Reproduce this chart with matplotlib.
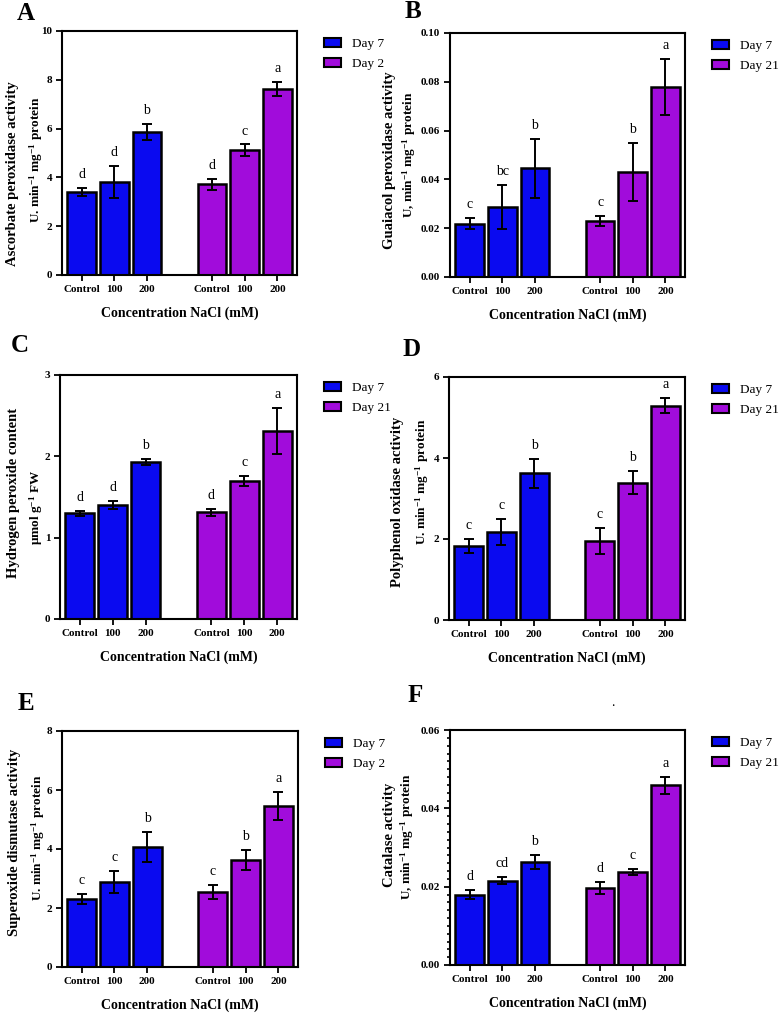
import numpy as np
import matplotlib
matplotlib.use('Agg')
import matplotlib.pyplot as plt
from matplotlib.patches import Patch
from matplotlib.ticker import MultipleLocator

plt.rcParams['font.family'] = ['Liberation Serif', 'DejaVu Serif']
plt.rcParams['mathtext.fontset'] = 'custom'
plt.rcParams['mathtext.rm'] = 'Liberation Serif:bold'
plt.rcParams['mathtext.it'] = 'Liberation Serif:bold'
plt.rcParams['mathtext.bf'] = 'Liberation Serif:bold'

groups = ['Control', '100', '200']
blue = '#0a0af0'
purple = '#a10cdb'

# A - ascorbate peroxidase
apx_d7 = [3.40, 3.80, 5.87]
apx_d7_err = [0.18, 0.65, 0.33]
apx_d21 = [3.72, 5.12, 7.62]
apx_d21_err = [0.22, 0.23, 0.30]
apx_letters = ['d', 'd', 'b', 'd', 'c', 'a']

# B - guaiacol peroxidase
gpx_d7 = [0.0219, 0.0288, 0.0445]
gpx_d7_err = [0.0022, 0.0090, 0.0120]
gpx_d21 = [0.0230, 0.0430, 0.0778]
gpx_d21_err = [0.0020, 0.0118, 0.0115]
gpx_letters = ['c', 'bc', 'b', 'c', 'b', 'a']

# C - hydrogen peroxide
h2o2_d7 = [1.30, 1.40, 1.93]
h2o2_d7_err = [0.03, 0.05, 0.04]
h2o2_d21 = [1.31, 1.70, 2.31]
h2o2_d21_err = [0.04, 0.06, 0.28]
h2o2_letters = ['d', 'd', 'b', 'd', 'c', 'a']

# D - polyphenol oxidase
ppo_d7 = [1.83, 2.18, 3.62]
ppo_d7_err = [0.17, 0.32, 0.36]
ppo_d21 = [1.95, 3.39, 5.29]
ppo_d21_err = [0.33, 0.28, 0.19]
ppo_letters = ['c', 'c', 'b', 'c', 'b', 'a']

# E - superoxide dismutase
sod_d7 = [2.30, 2.88, 4.07]
sod_d7_err = [0.16, 0.36, 0.50]
sod_d21 = [2.55, 3.63, 5.47]
sod_d21_err = [0.24, 0.33, 0.47]
sod_letters = ['c', 'c', 'b', 'c', 'b', 'a']

# F - catalase
cat_d7 = [0.0180, 0.0215, 0.0262]
cat_d7_err = [0.0011, 0.0009, 0.0018]
cat_d21 = [0.0197, 0.0237, 0.0459]
cat_d21_err = [0.0015, 0.0008, 0.0022]
cat_letters = ['d', 'cd', 'b', 'd', 'c', 'a']

W, H = 780, 1015
fig = plt.figure(figsize=(7.8, 10.15), dpi=100)


def px_axes(l, t, r, b):
    return fig.add_axes([l / W, 1 - b / H, (r - l) / W, (b - t) / H])


def panel(box, d7, d7e, d21, d21e, letters, ymax, ystep, yfmt, ylab, unit,
          tag, tagxy, outer_xy, inner_xy, legend_labels, minor=None):
    ax = px_axes(*box)
    x1 = np.array([0, 1, 2])
    x2 = np.array([4, 5, 6])
    ekw = dict(ecolor='black', elinewidth=1.4, capsize=3.8, capthick=1.4)
    ax.bar(x1, d7, width=0.88, color=blue, edgecolor='black', linewidth=1.8,
           yerr=d7e, error_kw=ekw, zorder=2)
    ax.bar(x2, d21, width=0.88, color=purple, edgecolor='black', linewidth=1.8,
           yerr=d21e, error_kw=ekw, zorder=2)
    xs = list(x1) + list(x2)
    tops = [v + e for v, e in zip(list(d7) + list(d21), list(d7e) + list(d21e))]
    for xx, tp, lt in zip(xs, tops, letters):
        ax.annotate(lt, (xx, tp), xytext=(0, 5), textcoords='offset points',
                    ha='center', va='bottom', fontsize=10)
    ax.set_xlim(-0.6, 6.6)
    ax.set_ylim(0, ymax)
    ax.set_yticks(np.arange(0, ymax + ystep / 2, ystep))
    ax.set_yticklabels([yfmt.format(v) for v in np.arange(0, ymax + ystep / 2, ystep)],
                       fontweight='bold', fontsize=8)
    ax.set_xticks(xs)
    ax.set_xticklabels(groups * 2, fontweight='bold', fontsize=8)
    ax.tick_params(length=4, width=1.3, pad=3)
    if minor:
        ax.yaxis.set_minor_locator(MultipleLocator(minor))
        ax.tick_params(axis='y', which='minor', length=2.5, width=1.2)
    for s in ax.spines.values():
        s.set_linewidth(1.5)
    ax.set_xlabel('Concentration NaCl (mM)', fontweight='bold', fontsize=10, labelpad=9)
    handles = [Patch(facecolor=blue, edgecolor='black', linewidth=1.5),
               Patch(facecolor=purple, edgecolor='black', linewidth=1.5)]
    lx = (box[2] + 27 - box[0]) / (box[2] - box[0])
    ax.legend(handles, legend_labels, loc='upper left', bbox_to_anchor=(lx, 0.97),
              frameon=False, fontsize=9.5, borderpad=0, borderaxespad=0,
              handlelength=1.3, handleheight=0.6, handletextpad=0.8,
              labelspacing=0.6)
    fig.text(tagxy[0] / W, 1 - tagxy[1] / H, tag, fontsize=18, fontweight='bold',
             ha='center', va='center')
    fig.text(outer_xy[0] / W, 1 - outer_xy[1] / H, ylab, rotation=90,
             fontsize=10.5, fontweight='bold', ha='center', va='center')
    fig.text(inner_xy[0] / W, 1 - inner_xy[1] / H, unit, rotation=90,
             fontsize=9.5, fontweight='bold', ha='center', va='center')
    return ax


u_prot = 'U. min$^{-1}$ mg$^{-1}$ protein'

panel((62, 31, 297, 275), apx_d7, apx_d7_err, apx_d21, apx_d21_err, apx_letters,
      10, 2, '{:.0f}', 'Ascorbate peroxidase activity', u_prot,
      'A', (26, 13), (13, 174), (36, 160), ['Day 7', 'Day 2'])

panel((450, 33, 685, 277), gpx_d7, gpx_d7_err, gpx_d21, gpx_d21_err, gpx_letters,
      0.10, 0.02, '{:.2f}', 'Guaiacol peroxidase activity', 'U, min$^{-1}$ mg$^{-1}$ protein',
      'B', (413, 12), (390, 160), (409, 155), ['Day 7', 'Day 21'])

panel((60, 375, 297, 619), h2o2_d7, h2o2_d7_err, h2o2_d21, h2o2_d21_err, h2o2_letters,
      3, 1, '{:.0f}', 'Hydrogen peroxide content', 'μmol g$^{-1}$ FW',
      'C', (20, 346), (14, 493), (36, 507), ['Day 7', 'Day 21'])

panel((449, 377, 685, 620), ppo_d7, ppo_d7_err, ppo_d21, ppo_d21_err, ppo_letters,
      6, 2, '{:.0f}', 'Polyphenol oxidase activity', u_prot,
      'D', (412, 349), (397, 502), (422, 482), ['Day 7', 'Day 21'])

panel((62, 731, 298, 967), sod_d7, sod_d7_err, sod_d21, sod_d21_err, sod_letters,
      8, 2, '{:.0f}', 'Superoxide dismutase activity', u_prot,
      'E', (26, 703), (15, 842), (38, 838), ['Day 7', 'Day 2'])

panel((450, 730, 685, 965), cat_d7, cat_d7_err, cat_d21, cat_d21_err, cat_letters,
      0.06, 0.02, '{:.2f}', 'Catalase activity', 'U, min$^{-1}$ mg$^{-1}$ protein',
      'F', (415, 695), (390, 835), (407, 837), ['Day 7', 'Day 21'], minor=0.002)

fig.text(613 / W, 1 - 702 / H, '.', fontsize=10, ha='center', va='center')

fig.savefig('out.png', dpi=100)
